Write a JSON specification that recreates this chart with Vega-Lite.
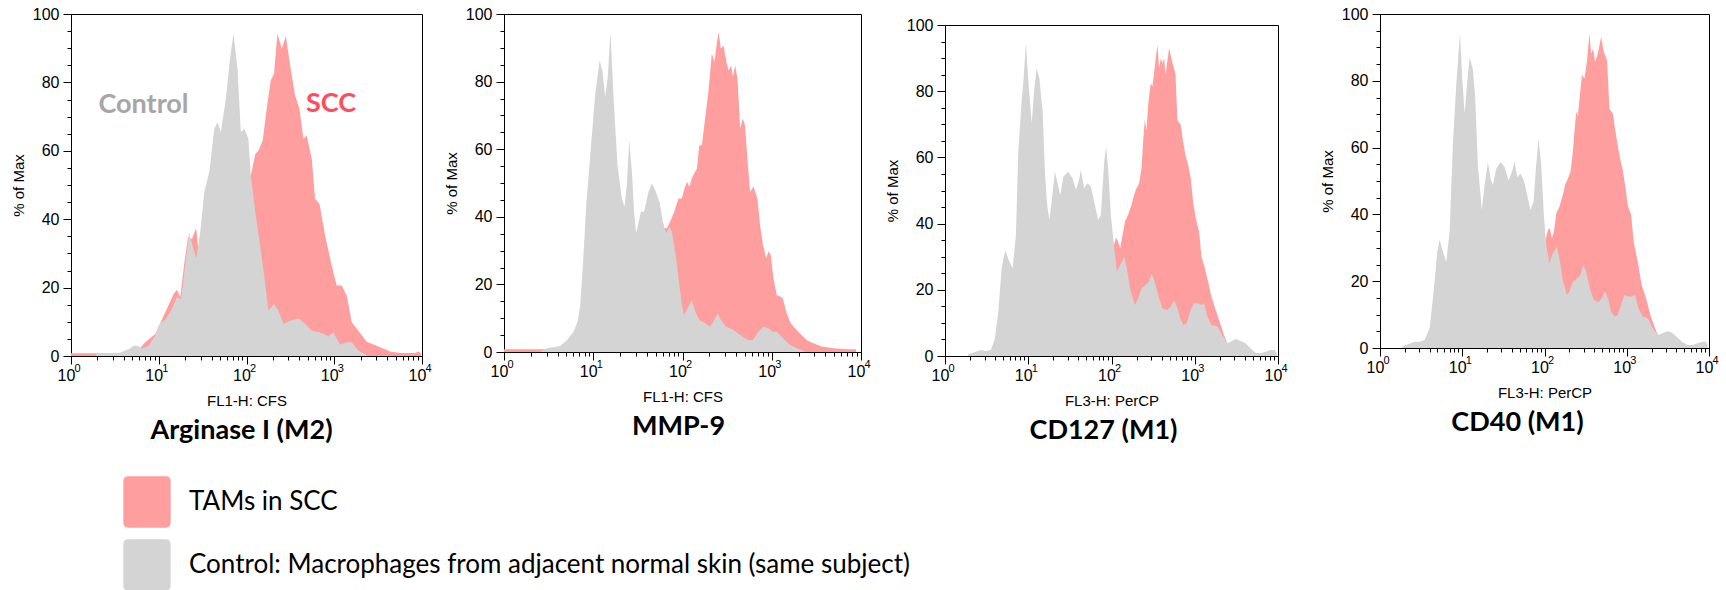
{
"$schema": "https://vega.github.io/schema/vega-lite/v6.json",
"padding": {"left": 10, "top": 5, "right": 0, "bottom": 0},
"background": "white",
"spacing": 0,
"datasets": {
"tags": [{"x": 6.7, "y": 73.4, "t": "Control"}, {"x": 918, "y": 73.6, "t": "SCC"}],
"argi": [
{"s":"SCC","x":1.0,"y":0.8},{"s":"SCC","x":1.98,"y":0.8},{"s":"SCC","x":3.65,"y":0.8},{"s":"SCC","x":5.64,"y":1.3},{"s":"SCC","x":7.02,"y":4.0},{"s":"SCC","x":9.12,"y":6.4},{"s":"SCC","x":12.4,"y":13.8},{"s":"SCC","x":14.8,"y":18.1},{"s":"SCC","x":16.1,"y":19.4},{"s":"SCC","x":17.6,"y":17.2},{"s":"SCC","x":19.5,"y":26.9},{"s":"SCC","x":21.5,"y":34.7},{"s":"SCC","x":23.9,"y":34.2},{"s":"SCC","x":26.7,"y":37.4},{"s":"SCC","x":28.4,"y":30.3},{"s":"SCC","x":31.0,"y":33},{"s":"SCC","x":35.3,"y":37},{"s":"SCC","x":45,"y":42},{"s":"SCC","x":59.7,"y":46},{"s":"SCC","x":80,"y":50},{"s":"SCC","x":101,"y":51.8},{"s":"SCC","x":112,"y":52.8},{"s":"SCC","x":126,"y":59.1},{"s":"SCC","x":137,"y":60.1},{"s":"SCC","x":153,"y":63.0},{"s":"SCC","x":170,"y":72.3},{"s":"SCC","x":189,"y":80.6},{"s":"SCC","x":206,"y":82.5},{"s":"SCC","x":225,"y":94.2},{"s":"SCC","x":253,"y":89.9},{"s":"SCC","x":281,"y":93.6},{"s":"SCC","x":314,"y":85.0},{"s":"SCC","x":358,"y":76.2},{"s":"SCC","x":401,"y":72.3},{"s":"SCC","x":446,"y":63.5},{"s":"SCC","x":486,"y":64.5},{"s":"SCC","x":554,"y":57.7},{"s":"SCC","x":605,"y":46.0},{"s":"SCC","x":678,"y":44.5},{"s":"SCC","x":787,"y":35.2},{"s":"SCC","x":937,"y":26.4},{"s":"SCC","x":1067,"y":20.6},{"s":"SCC","x":1217,"y":20.6},{"s":"SCC","x":1387,"y":17.7},{"s":"SCC","x":1582,"y":9.9},{"s":"SCC","x":1884,"y":7.4},{"s":"SCC","x":2344,"y":4.2},{"s":"SCC","x":3048,"y":3.0},{"s":"SCC","x":4325,"y":1.3},{"s":"SCC","x":5623,"y":0.9},{"s":"SCC","x":8318,"y":0.9},{"s":"SCC","x":9080,"y":1.3},{"s":"SCC","x":9750,"y":0.7},
{"s":"Control","x":1.9,"y":0},{"s":"Control","x":1.98,"y":0.7},{"s":"Control","x":3.49,"y":0.9},{"s":"Control","x":4.54,"y":2.0},{"s":"Control","x":5.17,"y":3.0},{"s":"Control","x":5.74,"y":3.0},{"s":"Control","x":6.43,"y":2.2},{"s":"Control","x":7.66,"y":3.0},{"s":"Control","x":9.12,"y":6.0},{"s":"Control","x":10.2,"y":9.4},{"s":"Control","x":11.9,"y":10.6},{"s":"Control","x":13.8,"y":13.3},{"s":"Control","x":16.1,"y":17.2},{"s":"Control","x":18.0,"y":16.7},{"s":"Control","x":20.0,"y":26.4},{"s":"Control","x":22.2,"y":36.2},{"s":"Control","x":24.5,"y":31.8},{"s":"Control","x":26.7,"y":28.6},{"s":"Control","x":29.7,"y":36.2},{"s":"Control","x":33.0,"y":47.9},{"s":"Control","x":37.9,"y":54.2},{"s":"Control","x":42.9,"y":66.4},{"s":"Control","x":46.7,"y":68.4},{"s":"Control","x":51.0,"y":65.5},{"s":"Control","x":58.2,"y":75.2},{"s":"Control","x":65.2,"y":87.4},{"s":"Control","x":71.1,"y":94.2},{"s":"Control","x":79.0,"y":84.0},{"s":"Control","x":86.1,"y":65.5},{"s":"Control","x":94.8,"y":66.4},{"s":"Control","x":105,"y":63.5},{"s":"Control","x":112,"y":52.8},{"s":"Control","x":126,"y":42.0},{"s":"Control","x":141,"y":33.3},{"s":"Control","x":159,"y":23.5},{"s":"Control","x":178,"y":13.3},{"s":"Control","x":206,"y":15.2},{"s":"Control","x":231,"y":13.3},{"s":"Control","x":264,"y":9.4},{"s":"Control","x":314,"y":10.3},{"s":"Control","x":391,"y":11.0},{"s":"Control","x":466,"y":9.4},{"s":"Control","x":554,"y":7.4},{"s":"Control","x":690,"y":6.9},{"s":"Control","x":859,"y":5.8},{"s":"Control","x":979,"y":6.9},{"s":"Control","x":1164,"y":3.3},{"s":"Control","x":1387,"y":4.0},{"s":"Control","x":1582,"y":4.0},{"s":"Control","x":1884,"y":1.6},{"s":"Control","x":2244,"y":0.5},{"s":"Control","x":2344,"y":0}
],
"mmp": [
{"s":"SCC","x":1.0,"y":0.8},{"s":"SCC","x":3.03,"y":0.8},{"s":"SCC","x":5,"y":1},{"s":"SCC","x":10,"y":2},{"s":"SCC","x":20,"y":5},{"s":"SCC","x":40,"y":15},{"s":"SCC","x":55,"y":30},{"s":"SCC","x":61.3,"y":36.6},{"s":"SCC","x":66.8,"y":36.6},{"s":"SCC","x":74.0,"y":39.0},{"s":"SCC","x":80.7,"y":41.5},{"s":"SCC","x":90.2,"y":45.4},{"s":"SCC","x":98.4,"y":45.4},{"s":"SCC","x":104,"y":47.9},{"s":"SCC","x":112,"y":50.3},{"s":"SCC","x":120,"y":48.9},{"s":"SCC","x":127,"y":51.3},{"s":"SCC","x":145,"y":54.3},{"s":"SCC","x":154,"y":61.2},{"s":"SCC","x":165,"y":61.2},{"s":"SCC","x":179,"y":69.1},{"s":"SCC","x":195,"y":76.9},{"s":"SCC","x":213,"y":88.3},{"s":"SCC","x":228,"y":85.8},{"s":"SCC","x":242,"y":91.2},{"s":"SCC","x":253,"y":94.7},{"s":"SCC","x":269,"y":89.8},{"s":"SCC","x":288,"y":90.7},{"s":"SCC","x":308,"y":86.3},{"s":"SCC","x":327,"y":83.3},{"s":"SCC","x":351,"y":84.8},{"s":"SCC","x":366,"y":81.4},{"s":"SCC","x":389,"y":84.8},{"s":"SCC","x":413,"y":80.9},{"s":"SCC","x":443,"y":66.1},{"s":"SCC","x":473,"y":69.1},{"s":"SCC","x":502,"y":67.1},{"s":"SCC","x":534,"y":57.2},{"s":"SCC","x":572,"y":47.4},{"s":"SCC","x":624,"y":48.9},{"s":"SCC","x":691,"y":45.4},{"s":"SCC","x":740,"y":37.5},{"s":"SCC","x":793,"y":32.1},{"s":"SCC","x":864,"y":27.7},{"s":"SCC","x":918,"y":29.7},{"s":"SCC","x":975,"y":28.7},{"s":"SCC","x":1045,"y":21.8},{"s":"SCC","x":1138,"y":16.8},{"s":"SCC","x":1240,"y":16.4},{"s":"SCC","x":1327,"y":15.9},{"s":"SCC","x":1472,"y":11.4},{"s":"SCC","x":1633,"y":8.5},{"s":"SCC","x":1824,"y":7.0},{"s":"SCC","x":2075,"y":5.5},{"s":"SCC","x":2466,"y":3.5},{"s":"SCC","x":2924,"y":2.6},{"s":"SCC","x":3631,"y":1.6},{"s":"SCC","x":4898,"y":1.1},{"s":"SCC","x":6918,"y":0.8},{"s":"SCC","x":8790,"y":0.8},
{"s":"Control","x":2.5,"y":0},{"s":"Control","x":3.03,"y":1.1},{"s":"Control","x":4.27,"y":1.8},{"s":"Control","x":5.07,"y":3.5},{"s":"Control","x":6.03,"y":6.0},{"s":"Control","x":6.68,"y":9.0},{"s":"Control","x":7.15,"y":13.9},{"s":"Control","x":7.66,"y":25.7},{"s":"Control","x":8.35,"y":43.4},{"s":"Control","x":9.25,"y":58.2},{"s":"Control","x":10.5,"y":76.0},{"s":"Control","x":11.8,"y":86.3},{"s":"Control","x":12.7,"y":82.9},{"s":"Control","x":13.6,"y":75.5},{"s":"Control","x":14.5,"y":80.9},{"s":"Control","x":15.6,"y":94.7},{"s":"Control","x":16.9,"y":75.0},{"s":"Control","x":18.7,"y":55.3},{"s":"Control","x":20.9,"y":45.4},{"s":"Control","x":22.4,"y":43.0},{"s":"Control","x":23.8,"y":49.4},{"s":"Control","x":25.3,"y":62.7},{"s":"Control","x":27.1,"y":53.3},{"s":"Control","x":28.8,"y":40.5},{"s":"Control","x":30.3,"y":35.1},{"s":"Control","x":34.2,"y":41.5},{"s":"Control","x":37.2,"y":41.5},{"s":"Control","x":41.6,"y":47.4},{"s":"Control","x":45.4,"y":49.9},{"s":"Control","x":49.4,"y":47.9},{"s":"Control","x":55.3,"y":44.4},{"s":"Control","x":60.3,"y":38.5},{"s":"Control","x":65.7,"y":35.1},{"s":"Control","x":71.5,"y":37.0},{"s":"Control","x":76.0,"y":35.6},{"s":"Control","x":82.8,"y":29.7},{"s":"Control","x":90.2,"y":21.8},{"s":"Control","x":98.4,"y":13.9},{"s":"Control","x":104,"y":10.9},{"s":"Control","x":114,"y":12.9},{"s":"Control","x":127,"y":15.4},{"s":"Control","x":139,"y":11.9},{"s":"Control","x":155,"y":9.5},{"s":"Control","x":179,"y":8.5},{"s":"Control","x":204,"y":7.5},{"s":"Control","x":222,"y":9.0},{"s":"Control","x":247,"y":11.4},{"s":"Control","x":269,"y":9.5},{"s":"Control","x":308,"y":7.5},{"s":"Control","x":372,"y":6.5},{"s":"Control","x":443,"y":5.0},{"s":"Control","x":548,"y":3.5},{"s":"Control","x":612,"y":3.5},{"s":"Control","x":709,"y":6.0},{"s":"Control","x":807,"y":7.5},{"s":"Control","x":918,"y":7.0},{"s":"Control","x":1026,"y":6.0},{"s":"Control","x":1138,"y":6.0},{"s":"Control","x":1352,"y":4.0},{"s":"Control","x":1603,"y":2.1},{"s":"Control","x":1905,"y":1.1},{"s":"Control","x":2261,"y":0.3},{"s":"Control","x":2400,"y":0}
],
"cd127": [
{"s":"SCC","x":50,"y":0},{"s":"SCC","x":100,"y":30.5},{"s":"SCC","x":106,"y":33.0},{"s":"SCC","x":113,"y":35.8},{"s":"SCC","x":120,"y":34.5},{"s":"SCC","x":127,"y":32.5},{"s":"SCC","x":136,"y":36.6},{"s":"SCC","x":145,"y":40.6},{"s":"SCC","x":158,"y":42.6},{"s":"SCC","x":174,"y":45.6},{"s":"SCC","x":184,"y":48.1},{"s":"SCC","x":196,"y":50.2},{"s":"SCC","x":215,"y":52.2},{"s":"SCC","x":229,"y":56.7},{"s":"SCC","x":240,"y":64.8},{"s":"SCC","x":251,"y":71.3},{"s":"SCC","x":263,"y":68.2},{"s":"SCC","x":278,"y":76.8},{"s":"SCC","x":296,"y":82.4},{"s":"SCC","x":310,"y":81.4},{"s":"SCC","x":331,"y":87.4},{"s":"SCC","x":356,"y":94.0},{"s":"SCC","x":373,"y":86.9},{"s":"SCC","x":391,"y":89.9},{"s":"SCC","x":409,"y":88.4},{"s":"SCC","x":429,"y":89.9},{"s":"SCC","x":445,"y":84.9},{"s":"SCC","x":470,"y":89.4},{"s":"SCC","x":492,"y":93.0},{"s":"SCC","x":525,"y":89.9},{"s":"SCC","x":555,"y":87.4},{"s":"SCC","x":586,"y":85.4},{"s":"SCC","x":619,"y":71.3},{"s":"SCC","x":679,"y":69.8},{"s":"SCC","x":724,"y":64.8},{"s":"SCC","x":773,"y":60.7},{"s":"SCC","x":832,"y":57.7},{"s":"SCC","x":895,"y":53.7},{"s":"SCC","x":955,"y":46.6},{"s":"SCC","x":1028,"y":41.6},{"s":"SCC","x":1127,"y":37.6},{"s":"SCC","x":1202,"y":30.0},{"s":"SCC","x":1294,"y":27.5},{"s":"SCC","x":1445,"y":22.5},{"s":"SCC","x":1585,"y":17.9},{"s":"SCC","x":1786,"y":13.9},{"s":"SCC","x":2014,"y":9.9},{"s":"SCC","x":2249,"y":6.3},{"s":"SCC","x":2466,"y":3.8},{"s":"SCC","x":2600,"y":2.0},{"s":"SCC","x":3000,"y":0},
{"s":"Control","x":1.85,"y":0},{"s":"Control","x":1.91,"y":0.5},{"s":"Control","x":2.25,"y":1.1},{"s":"Control","x":2.70,"y":1.8},{"s":"Control","x":3.10,"y":1.5},{"s":"Control","x":3.56,"y":1.8},{"s":"Control","x":3.98,"y":5.3},{"s":"Control","x":4.37,"y":13.4},{"s":"Control","x":4.79,"y":26.5},{"s":"Control","x":5.30,"y":32.0},{"s":"Control","x":5.81,"y":29.0},{"s":"Control","x":6.49,"y":26.5},{"s":"Control","x":7.11,"y":36.6},{"s":"Control","x":7.59,"y":61.7},{"s":"Control","x":8.32,"y":76.8},{"s":"Control","x":8.79,"y":83.9},{"s":"Control","x":9.38,"y":94.5},{"s":"Control","x":10.1,"y":81.9},{"s":"Control","x":11.0,"y":70.3},{"s":"Control","x":11.8,"y":80.4},{"s":"Control","x":12.6,"y":86.9},{"s":"Control","x":13.6,"y":83.9},{"s":"Control","x":14.9,"y":73.8},{"s":"Control","x":15.8,"y":56.7},{"s":"Control","x":16.7,"y":46.6},{"s":"Control","x":17.9,"y":41.1},{"s":"Control","x":19.1,"y":46.6},{"s":"Control","x":20.9,"y":55.7},{"s":"Control","x":22.5,"y":52.2},{"s":"Control","x":24.2,"y":48.6},{"s":"Control","x":26.5,"y":54.2},{"s":"Control","x":30.2,"y":55.7},{"s":"Control","x":34.0,"y":53.7},{"s":"Control","x":37.3,"y":50.2},{"s":"Control","x":39.8,"y":52.2},{"s":"Control","x":42.9,"y":56.2},{"s":"Control","x":47.0,"y":50.7},{"s":"Control","x":51.5,"y":52.2},{"s":"Control","x":56.5,"y":51.2},{"s":"Control","x":63.1,"y":45.6},{"s":"Control","x":69.2,"y":41.1},{"s":"Control","x":74.5,"y":42.6},{"s":"Control","x":81.7,"y":58.7},{"s":"Control","x":86.3,"y":63.2},{"s":"Control","x":91.2,"y":56.7},{"s":"Control","x":98.2,"y":42.6},{"s":"Control","x":106,"y":34.5},{"s":"Control","x":116,"y":25.5},{"s":"Control","x":127,"y":27.5},{"s":"Control","x":142,"y":30.0},{"s":"Control","x":153,"y":26.5},{"s":"Control","x":167,"y":20.4},{"s":"Control","x":191,"y":15.4},{"s":"Control","x":205,"y":16.9},{"s":"Control","x":229,"y":20.4},{"s":"Control","x":258,"y":21.5},{"s":"Control","x":283,"y":22.5},{"s":"Control","x":302,"y":25.0},{"s":"Control","x":325,"y":23.0},{"s":"Control","x":363,"y":18.4},{"s":"Control","x":409,"y":14.4},{"s":"Control","x":470,"y":13.9},{"s":"Control","x":515,"y":14.9},{"s":"Control","x":565,"y":16.9},{"s":"Control","x":619,"y":14.4},{"s":"Control","x":667,"y":11.4},{"s":"Control","x":731,"y":9.4},{"s":"Control","x":802,"y":9.9},{"s":"Control","x":879,"y":13.4},{"s":"Control","x":964,"y":15.9},{"s":"Control","x":1076,"y":15.9},{"s":"Control","x":1202,"y":15.4},{"s":"Control","x":1294,"y":15.9},{"s":"Control","x":1419,"y":11.9},{"s":"Control","x":1585,"y":9.4},{"s":"Control","x":1871,"y":8.9},{"s":"Control","x":2148,"y":6.3},{"s":"Control","x":2466,"y":3.8},{"s":"Control","x":2704,"y":4.3},{"s":"Control","x":3105,"y":5.1},{"s":"Control","x":3565,"y":4.5},{"s":"Control","x":4093,"y":3.8},{"s":"Control","x":4699,"y":2.3},{"s":"Control","x":5395,"y":1.0},{"s":"Control","x":6194,"y":0.8},{"s":"Control","x":7112,"y":1.3},{"s":"Control","x":8166,"y":1.8},{"s":"Control","x":9120,"y":1.8},{"s":"Control","x":9638,"y":0.8}
],
"cd40": [
{"s":"SCC","x":50,"y":0},{"s":"SCC","x":98,"y":28},{"s":"SCC","x":103,"y":32.3},{"s":"SCC","x":110,"y":35.3},{"s":"SCC","x":116,"y":35.8},{"s":"SCC","x":123,"y":32.8},{"s":"SCC","x":130,"y":34.8},{"s":"SCC","x":139,"y":40.3},{"s":"SCC","x":152,"y":42.3},{"s":"SCC","x":167,"y":45.8},{"s":"SCC","x":178,"y":48.8},{"s":"SCC","x":192,"y":50.7},{"s":"SCC","x":207,"y":52.7},{"s":"SCC","x":221,"y":58.7},{"s":"SCC","x":231,"y":64.7},{"s":"SCC","x":243,"y":70.7},{"s":"SCC","x":254,"y":69.2},{"s":"SCC","x":269,"y":75.7},{"s":"SCC","x":286,"y":81.7},{"s":"SCC","x":306,"y":80.7},{"s":"SCC","x":327,"y":85.6},{"s":"SCC","x":352,"y":94.1},{"s":"SCC","x":369,"y":88.1},{"s":"SCC","x":390,"y":89.6},{"s":"SCC","x":412,"y":85.6},{"s":"SCC","x":445,"y":88.1},{"s":"SCC","x":488,"y":93.1},{"s":"SCC","x":526,"y":88.6},{"s":"SCC","x":577,"y":86.1},{"s":"SCC","x":615,"y":71.7},{"s":"SCC","x":676,"y":70.2},{"s":"SCC","x":741,"y":63.7},{"s":"SCC","x":815,"y":57.7},{"s":"SCC","x":894,"y":53.2},{"s":"SCC","x":955,"y":48.8},{"s":"SCC","x":1028,"y":42.8},{"s":"SCC","x":1130,"y":39.8},{"s":"SCC","x":1216,"y":31.8},{"s":"SCC","x":1361,"y":25.8},{"s":"SCC","x":1521,"y":18.8},{"s":"SCC","x":1718,"y":14.9},{"s":"SCC","x":1938,"y":9.9},{"s":"SCC","x":2168,"y":6.4},{"s":"SCC","x":2382,"y":3.9},{"s":"SCC","x":2600,"y":2.0},{"s":"SCC","x":3000,"y":0},
{"s":"Control","x":1.85,"y":0},{"s":"Control","x":1.90,"y":0.6},{"s":"Control","x":2.64,"y":1.9},{"s":"Control","x":3.03,"y":1.9},{"s":"Control","x":3.49,"y":2.4},{"s":"Control","x":4.01,"y":5.9},{"s":"Control","x":4.53,"y":17.8},{"s":"Control","x":4.97,"y":28.8},{"s":"Control","x":5.31,"y":32.3},{"s":"Control","x":5.82,"y":28.8},{"s":"Control","x":6.39,"y":25.8},{"s":"Control","x":7.02,"y":34.8},{"s":"Control","x":7.71,"y":61.7},{"s":"Control","x":8.45,"y":78.7},{"s":"Control","x":9.37,"y":94.1},{"s":"Control","x":10.0,"y":80.7},{"s":"Control","x":10.7,"y":70.2},{"s":"Control","x":11.5,"y":79.7},{"s":"Control","x":12.3,"y":87.1},{"s":"Control","x":13.5,"y":83.2},{"s":"Control","x":14.4,"y":74.7},{"s":"Control","x":15.5,"y":54.7},{"s":"Control","x":17.3,"y":41.3},{"s":"Control","x":18.7,"y":48.8},{"s":"Control","x":20.5,"y":55.7},{"s":"Control","x":22.1,"y":50.7},{"s":"Control","x":23.6,"y":48.8},{"s":"Control","x":25.9,"y":53.7},{"s":"Control","x":29.2,"y":55.7},{"s":"Control","x":32.7,"y":54.2},{"s":"Control","x":36.6,"y":50.2},{"s":"Control","x":40.1,"y":52.7},{"s":"Control","x":43.2,"y":55.7},{"s":"Control","x":46.6,"y":51.2},{"s":"Control","x":51.1,"y":52.2},{"s":"Control","x":56.1,"y":50.2},{"s":"Control","x":61.5,"y":45.8},{"s":"Control","x":67.6,"y":41.3},{"s":"Control","x":73.5,"y":43.8},{"s":"Control","x":79.2,"y":54.7},{"s":"Control","x":84.6,"y":62.7},{"s":"Control","x":91.2,"y":54.7},{"s":"Control","x":98.2,"y":39.8},{"s":"Control","x":105,"y":30.8},{"s":"Control","x":115,"y":25.3},{"s":"Control","x":126,"y":28.3},{"s":"Control","x":141,"y":30.3},{"s":"Control","x":152,"y":26.8},{"s":"Control","x":167,"y":20.3},{"s":"Control","x":187,"y":15.9},{"s":"Control","x":201,"y":16.9},{"s":"Control","x":221,"y":19.8},{"s":"Control","x":249,"y":20.8},{"s":"Control","x":274,"y":21.8},{"s":"Control","x":295,"y":24.8},{"s":"Control","x":321,"y":22.8},{"s":"Control","x":352,"y":18.3},{"s":"Control","x":398,"y":14.4},{"s":"Control","x":453,"y":13.7},{"s":"Control","x":497,"y":14.9},{"s":"Control","x":546,"y":16.9},{"s":"Control","x":599,"y":14.4},{"s":"Control","x":645,"y":10.9},{"s":"Control","x":708,"y":9.4},{"s":"Control","x":778,"y":9.9},{"s":"Control","x":853,"y":12.9},{"s":"Control","x":937,"y":15.9},{"s":"Control","x":1028,"y":15.4},{"s":"Control","x":1151,"y":15.4},{"s":"Control","x":1262,"y":15.9},{"s":"Control","x":1387,"y":11.9},{"s":"Control","x":1563,"y":9.4},{"s":"Control","x":1799,"y":8.9},{"s":"Control","x":2070,"y":5.9},{"s":"Control","x":2382,"y":3.9},{"s":"Control","x":2735,"y":4.4},{"s":"Control","x":3148,"y":5.1},{"s":"Control","x":3622,"y":4.4},{"s":"Control","x":4159,"y":3.1},{"s":"Control","x":4786,"y":1.7},{"s":"Control","x":5508,"y":0.9},{"s":"Control","x":6339,"y":0.9},{"s":"Control","x":7278,"y":1.4},{"s":"Control","x":8375,"y":1.9},{"s":"Control","x":9204,"y":1.9},{"s":"Control","x":9638,"y":0.9}
]
},
"hconcat": [
{
"width": 351, "height": 342,
"data": {"name": "argi"},
"title": {"text": "Arginase I (M2)", "dx": -5},
"layer": [
{"transform": [{"filter": "datum.s === 'SCC'"}], "mark": {"type": "area", "opacity": 1},
 "encoding": {
  "x": {"field": "x", "type": "quantitative", "scale": {"type": "log", "domain": [1, 10000], "nice": false}, "axis": {"orient": "bottom", "values": [1, 10, 100, 1000, 10000], "labelExpr": "'10'", "labelOffset": -5, "tickSize": 8, "title": "FL1-H: CFS"}},
  "y": {"field": "y", "type": "quantitative", "stack": null, "scale": {"domain": [0, 100], "nice": false}, "axis": {"orient": "left", "values": [0, 20, 40, 60, 80, 100], "tickSize": 8, "title": "% of Max"}},
  "color": {"field": "s", "type": "nominal", "scale": {"domain": ["SCC", "Control"], "range": ["#ff9e9e", "#d4d4d4"]},
   "legend": {"title": null, "labelExpr": "datum.value === 'SCC' ? 'TAMs in SCC' : 'Control: Macrophages from adjacent normal skin (same subject)'",
     "encode": {"symbols": {"update": {"fill": {"signal": "datum.value === 'SCC' ? '#ff8a90' : '#e0e0e0'"}, "opacity": {"value": 1}}}}}}
 }},
{"transform": [{"filter": "datum.s === 'Control'"}], "mark": {"type": "area", "opacity": 1},
 "encoding": {
  "x": {"field": "x", "type": "quantitative", "scale": {"type": "log", "domain": [1, 10000], "nice": false}, "axis": {"orient": "bottom", "values": [1,2,3,4,5,6,7,8,9,10,20,30,40,50,60,70,80,90,100,200,300,400,500,600,700,800,900,1000,2000,3000,4000,5000,6000,7000,8000,9000,10000], "labelExpr": "datum.value === 1 ? '0' : datum.value === 10 ? '1' : datum.value === 100 ? '2' : datum.value === 1000 ? '3' : datum.value === 10000 ? '4' : ''", "labelFontSize": 11, "labelAlign": "left", "labelOffset": 3, "labelPadding": 2, "tickSize": 4, "domain": false, "title": null}},
  "y": {"field": "y", "type": "quantitative", "stack": null, "scale": {"domain": [0, 100], "nice": false}, "axis": {"orient": "left", "values": [5,10,15,25,30,35,45,50,55,65,70,75,85,90,95], "tickSize": 4, "labels": false, "domain": false, "title": null}},
  "color": {"field": "s", "type": "nominal"}
 }},
{"data": {"name": "tags"}, "mark": {"type": "text", "font": "Lato", "fontSize": 27, "fontWeight": "bold", "align": "center", "baseline": "middle"},
 "encoding": {
  "x": {"field": "x", "type": "quantitative", "axis": null},
  "y": {"field": "y", "type": "quantitative", "axis": null},
  "text": {"field": "t"},
  "color": {"condition": {"test": "datum.t === 'SCC'", "value": "#ff4d5e"}, "value": "#a6a6a6"}
 }}
],
"resolve": {"axis": {"x": "independent", "y": "independent"}}
},
{"width": 11, "height": 1, "view": {"stroke": null}, "data": {"values": []}, "mark": "rule", "encoding": {}},
{
"width": 357, "height": 338,
"data": {"name": "mmp"},
"title": {"text": "MMP-9", "dx": -4},
"layer": [
{"transform": [{"filter": "datum.s === 'SCC'"}], "mark": {"type": "area", "opacity": 1},
 "encoding": {
  "x": {"field": "x", "type": "quantitative", "scale": {"type": "log", "domain": [1, 10000], "nice": false}, "axis": {"orient": "bottom", "values": [1, 10, 100, 1000, 10000], "labelExpr": "'10'", "labelOffset": -5, "tickSize": 8, "title": "FL1-H: CFS"}},
  "y": {"field": "y", "type": "quantitative", "stack": null, "scale": {"domain": [0, 100], "nice": false}, "axis": {"orient": "left", "values": [0, 20, 40, 60, 80, 100], "tickSize": 8, "title": "% of Max"}},
  "color": {"field": "s", "type": "nominal"}
 }},
{"transform": [{"filter": "datum.s === 'Control'"}], "mark": {"type": "area", "opacity": 1},
 "encoding": {
  "x": {"field": "x", "type": "quantitative", "scale": {"type": "log", "domain": [1, 10000], "nice": false}, "axis": {"orient": "bottom", "values": [1,2,3,4,5,6,7,8,9,10,20,30,40,50,60,70,80,90,100,200,300,400,500,600,700,800,900,1000,2000,3000,4000,5000,6000,7000,8000,9000,10000], "labelExpr": "datum.value === 1 ? '0' : datum.value === 10 ? '1' : datum.value === 100 ? '2' : datum.value === 1000 ? '3' : datum.value === 10000 ? '4' : ''", "labelFontSize": 11, "labelAlign": "left", "labelOffset": 3, "labelPadding": 2, "tickSize": 4, "domain": false, "title": null}},
  "y": {"field": "y", "type": "quantitative", "stack": null, "scale": {"domain": [0, 100], "nice": false}, "axis": {"orient": "left", "values": [5,10,15,25,30,35,45,50,55,65,70,75,85,90,95], "tickSize": 4, "labels": false, "domain": false, "title": null}},
  "color": {"field": "s", "type": "nominal"}
 }}
],
"resolve": {"axis": {"x": "independent", "y": "independent"}}
},
{"width": 13, "height": 1, "view": {"stroke": null}, "data": {"values": []}, "mark": "rule", "encoding": {}},
{"spacing": 0, "vconcat": [
{"width": 1, "height": 2, "view": {"stroke": null}, "data": {"values": []}, "mark": "rule", "encoding": {}},
{
"width": 333, "height": 331,
"data": {"name": "cd127"},
"title": {"text": "CD127 (M1)", "dx": -8},
"layer": [
{"transform": [{"filter": "datum.s === 'SCC'"}], "mark": {"type": "area", "opacity": 1},
 "encoding": {
  "x": {"field": "x", "type": "quantitative", "scale": {"type": "log", "domain": [1, 10000], "nice": false}, "axis": {"orient": "bottom", "values": [1, 10, 100, 1000, 10000], "labelExpr": "'10'", "labelOffset": -5, "tickSize": 8, "title": "FL3-H: PerCP"}},
  "y": {"field": "y", "type": "quantitative", "stack": null, "scale": {"domain": [0, 100], "nice": false}, "axis": {"orient": "left", "values": [0, 20, 40, 60, 80, 100], "tickSize": 8, "title": "% of Max"}},
  "color": {"field": "s", "type": "nominal"}
 }},
{"transform": [{"filter": "datum.s === 'Control'"}], "mark": {"type": "area", "opacity": 1},
 "encoding": {
  "x": {"field": "x", "type": "quantitative", "scale": {"type": "log", "domain": [1, 10000], "nice": false}, "axis": {"orient": "bottom", "values": [1,2,3,4,5,6,7,8,9,10,20,30,40,50,60,70,80,90,100,200,300,400,500,600,700,800,900,1000,2000,3000,4000,5000,6000,7000,8000,9000,10000], "labelExpr": "datum.value === 1 ? '0' : datum.value === 10 ? '1' : datum.value === 100 ? '2' : datum.value === 1000 ? '3' : datum.value === 10000 ? '4' : ''", "labelFontSize": 11, "labelAlign": "left", "labelOffset": 3, "labelPadding": 2, "tickSize": 4, "domain": false, "title": null}},
  "y": {"field": "y", "type": "quantitative", "stack": null, "scale": {"domain": [0, 100], "nice": false}, "axis": {"orient": "left", "values": [5,10,15,25,30,35,45,50,55,65,70,75,85,90,95], "tickSize": 4, "labels": false, "domain": false, "title": null}},
  "color": {"field": "s", "type": "nominal"}
 }}
],
"resolve": {"axis": {"x": "independent", "y": "independent"}}
}
]},
{"width": 31, "height": 1, "view": {"stroke": null}, "data": {"values": []}, "mark": "rule", "encoding": {}},
{
"width": 329, "height": 334,
"data": {"name": "cd40"},
"title": {"text": "CD40 (M1)", "dx": -27},
"layer": [
{"transform": [{"filter": "datum.s === 'SCC'"}], "mark": {"type": "area", "opacity": 1},
 "encoding": {
  "x": {"field": "x", "type": "quantitative", "scale": {"type": "log", "domain": [1, 10000], "nice": false}, "axis": {"orient": "bottom", "values": [1, 10, 100, 1000, 10000], "labelExpr": "'10'", "labelOffset": -5, "tickSize": 8, "title": "FL3-H: PerCP"}},
  "y": {"field": "y", "type": "quantitative", "stack": null, "scale": {"domain": [0, 100], "nice": false}, "axis": {"orient": "left", "values": [0, 20, 40, 60, 80, 100], "tickSize": 8, "title": "% of Max"}},
  "color": {"field": "s", "type": "nominal"}
 }},
{"transform": [{"filter": "datum.s === 'Control'"}], "mark": {"type": "area", "opacity": 1},
 "encoding": {
  "x": {"field": "x", "type": "quantitative", "scale": {"type": "log", "domain": [1, 10000], "nice": false}, "axis": {"orient": "bottom", "values": [1,2,3,4,5,6,7,8,9,10,20,30,40,50,60,70,80,90,100,200,300,400,500,600,700,800,900,1000,2000,3000,4000,5000,6000,7000,8000,9000,10000], "labelExpr": "datum.value === 1 ? '0' : datum.value === 10 ? '1' : datum.value === 100 ? '2' : datum.value === 1000 ? '3' : datum.value === 10000 ? '4' : ''", "labelFontSize": 11, "labelAlign": "left", "labelOffset": 3, "labelPadding": 2, "tickSize": 4, "domain": false, "title": null}},
  "y": {"field": "y", "type": "quantitative", "stack": null, "scale": {"domain": [0, 100], "nice": false}, "axis": {"orient": "left", "values": [5,10,15,25,30,35,45,50,55,65,70,75,85,90,95], "tickSize": 4, "labels": false, "domain": false, "title": null}},
  "color": {"field": "s", "type": "nominal"}
 }}
],
"resolve": {"axis": {"x": "independent", "y": "independent"}}
}
],
"config": {
 "view": {"stroke": "black", "strokeWidth": 1},
 "axis": {"grid": false, "domainColor": "black", "tickColor": "black", "labelColor": "black", "titleColor": "black", "labelFont": "Liberation Sans", "titleFont": "Liberation Sans", "labelFontSize": 16, "titleFontSize": 15, "titleFontWeight": "normal", "tickWidth": 1, "domainWidth": 1, "labelFlush": false, "labelOverlap": false},
 "axisX": {"labelPadding": 3, "titlePadding": 10},
 "axisY": {"labelPadding": 4, "titlePadding": 6},
 "title": {"orient": "bottom", "anchor": "middle", "frame": "group", "font": "Lato", "fontSize": 27, "fontWeight": "bold", "color": "black", "offset": 10},
 "legend": {"orient": "none", "legendX": 50, "legendY": 462, "padding": 0, "direction": "vertical",
   "symbolType": "M -0.92 -0.8 Q -0.92 -1 -0.72 -1 L 0.72 -1 Q 0.92 -1 0.92 -0.8 L 0.92 0.8 Q 0.92 1 0.72 1 L -0.72 1 Q -0.92 1 -0.92 0.8 Z",
   "symbolSize": 2650, "symbolStrokeWidth": 0, "symbolOpacity": 1,
   "labelFont": "Lato", "labelFontSize": 26, "labelColor": "black", "labelOffset": 16, "rowPadding": 11, "labelLimit": 1000}
}
}
